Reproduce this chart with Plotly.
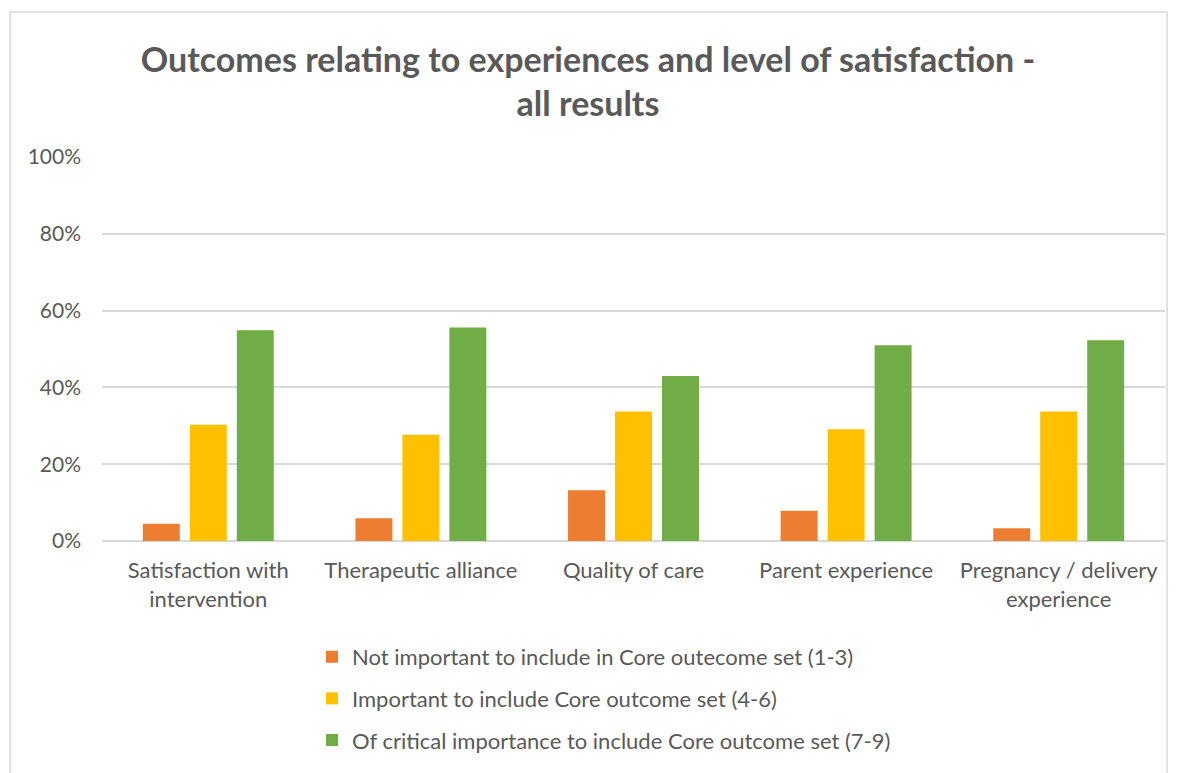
import plotly.graph_objects as go

categories = ["Satisfaction with<br>intervention", "Therapeutic alliance", "Quality of care",
              "Parent experience", "Pregnancy / delivery<br>experience"]
series_names = ["Not important to include in Core outecome set (1-3)",
                "Important to include Core outcome set (4-6)",
                "Of critical importance to include Core outcome set (7-9)"]
not_important = [0.045, 0.059, 0.132, 0.079, 0.033]
important = [0.303, 0.277, 0.337, 0.291, 0.337]
critical = [0.549, 0.556, 0.430, 0.510, 0.523]
colors = ["#ED7D31", "#FFC000", "#70AD47"]

FONT = "Lato, Carlito, Calibri, sans-serif"
TXT = "#595959"

W, H = 1179, 773
L, R_EDGE, T, ZERO = 94, 1157, 149, 533

fig = go.Figure()
for i, (name, vals) in enumerate(zip(series_names, [not_important, important, critical])):
    fig.add_trace(go.Bar(x=categories, y=vals, name=name, marker_color=colors[i],
                         marker_line_width=0, legendgroup=str(i)))

fig.update_layout(
    width=W, height=H,
    margin=dict(l=L, r=W - R_EDGE, t=T, b=H - ZERO, autoexpand=False),
    paper_bgcolor="white", plot_bgcolor="white",
    font=dict(family=FONT, color=TXT, size=21),
    title=dict(text="<b>Outcomes relating to experiences and level of satisfaction -<br>all results</b>",
               x=580 / W, xref="container", xanchor="center",
               y=1 - 64 / H, yref="container", yanchor="middle",
               font=dict(family=FONT, size=34, color=TXT)),
    barmode="group", bargap=0.337, bargroupgap=0.213,
    showlegend=True,
    legend=dict(orientation="v", x=304 / W, xref="container", xanchor="left",
                y=1 - 628 / H, yref="container", yanchor="top",
                font=dict(family=FONT, size=22, color=TXT),
                tracegroupgap=10, itemwidth=30, traceorder="grouped"),
)
fig.update_yaxes(range=[0, 1], tickformat=".0%", dtick=0.2, showgrid=True,
                 gridcolor="#D9D9D9", gridwidth=1.5, zeroline=True, zerolinecolor="#D9D9D9",
                 zerolinewidth=1.5, ticks="", ticklabelstandoff=20, showline=False,
                 tickfont=dict(size=21, color=TXT))
fig.update_xaxes(showgrid=False, ticks="", showline=False, tickangle=0, ticklabelstandoff=14,
                 tickfont=dict(size=22, color=TXT))

span = R_EDGE - L
fig.add_shape(type="rect", xref="paper", yref="paper",
              x0=(2 - L) / span, x1=(1159 - L) / span,
              y0=(ZERO - 800) / (ZERO - T), y1=(ZERO - 4) / (ZERO - T),
              line=dict(color="#D9D9D9", width=1.5), fillcolor="rgba(0,0,0,0)", layer="below")

fig.write_html("out.html")
